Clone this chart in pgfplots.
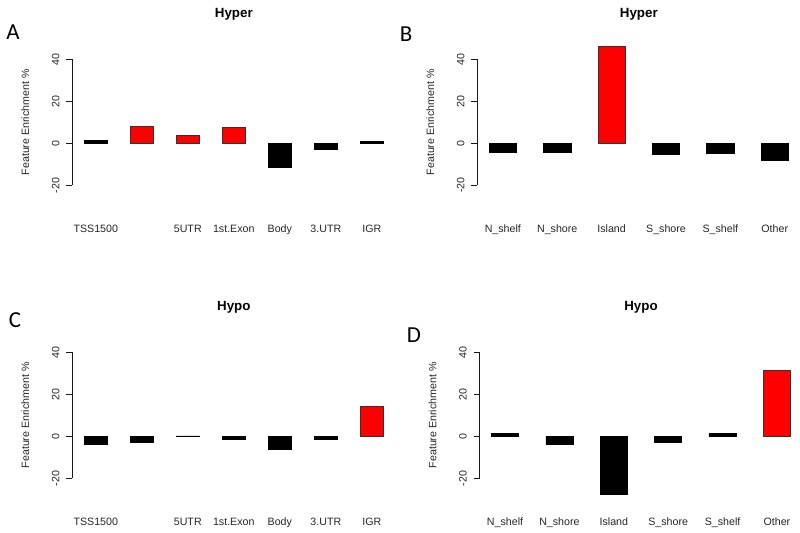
\documentclass[border=0pt]{standalone}
\usepackage{pgfplots}
\pgfplotsset{compat=1.18}
\usepackage{fontspec}
\setmainfont{Liberation Sans}
\newfontfamily\calib{Carlito}
\pgfplotsset{
  panel/.style={
    scale only axis, width=323bp, height=126bp,
    ymin=-20, ymax=40, clip=false,
    axis y line*=left, axis x line*=bottom,
    x axis line style={draw=none}, xtick style={draw=none},
    ytick={-20,0,20,40},
    tick align=outside, major tick length=6bp,
    y axis line style={line width=0.8bp, black!90},
    ytick style={line width=0.8bp, black!90},
    /pgf/number format/assume math mode=true,
    yticklabel style={rotate=90, anchor=base, font=\fontsize{10.7}{12}\selectfont, text=black!85},
    yticklabel shift=7bp,
    xticklabel style={anchor=base, font=\fontsize{10.7}{12}\selectfont, text=black!85},
    xticklabel shift=41bp,
    xtick=data,
    ylabel={Feature Enrichment \%},
    ylabel style={at={(axis description cs:-0.1455,0.5)}, anchor=center, rotate=0, font=\fontsize{10.7}{12}\selectfont, text=black!85},
    title style={at={(axis description cs:0.5,1.283)}, anchor=base, font=\fontsize{13.4}{15}\selectfont\bfseries},
  },
  redbar/.style={ybar, bar shift=0pt, bar width=1, fill=red, draw=black!80, line width=0.6bp},
  blkbar/.style={ybar, bar shift=0pt, bar width=1, fill=black, draw=black, line width=0.6bp},
}
\begin{document}
\begin{tikzpicture}
\useasboundingbox (0,0) rectangle (800bp,533bp);
% Panel A
\begin{axis}[panel, at={(72.3bp,347.7bp)}, anchor=south west,
  xmin=0.48, xmax=14.52, title={Hyper},
  xtick={1.5,3.5,5.5,7.5,9.5,11.5,13.5},
  xticklabels={TSS1500,,5UTR,1st.Exon,Body,3.UTR,IGR}]
\addplot[blkbar] coordinates {(1.5,1.3) (9.5,-11.6) (11.5,-2.7) (13.5,0.8)};
\addplot[redbar] coordinates {(3.5,7.9) (5.5,3.8) (7.5,7.4)};
\end{axis}
% Panel B
\begin{axis}[panel, at={(477.3bp,347.7bp)}, anchor=south west,
  xmin=0.56, xmax=12.44, title={Hyper},
  xtick={1.5,3.5,5.5,7.5,9.5,11.5},
  xticklabels={N\_shelf,N\_shore,Island,S\_shore,S\_shelf,Other}]
\addplot[blkbar] coordinates {(1.5,-4.1) (3.5,-4.1) (7.5,-5.1) (9.5,-4.6) (11.5,-8.1)};
\addplot[redbar] coordinates {(5.5,46.2)};
\end{axis}
% Panel C
\begin{axis}[panel, at={(72.3bp,54.7bp)}, anchor=south west,
  xmin=0.48, xmax=14.52, title={Hypo},
  xtick={1.5,3.5,5.5,7.5,9.5,11.5,13.5},
  xticklabels={TSS1500,,5UTR,1st.Exon,Body,3.UTR,IGR}]
\addplot[blkbar] coordinates {(1.5,-3.7) (3.5,-2.9) (5.5,0.2) (7.5,-1.6) (9.5,-6.0) (11.5,-1.6)};
\addplot[redbar] coordinates {(13.5,14.3)};
\end{axis}
% Panel D
\begin{axis}[panel, at={(479.5bp,54.7bp)}, anchor=south west,
  xmin=0.56, xmax=12.44, title={Hypo},
  xtick={1.5,3.5,5.5,7.5,9.5,11.5},
  xticklabels={N\_shelf,N\_shore,Island,S\_shore,S\_shelf,Other}]
\addplot[blkbar] coordinates {(1.5,1.3) (3.5,-4.0) (5.5,-27.5) (7.5,-2.9) (9.5,1.3)};
\addplot[redbar] coordinates {(11.5,31.6)};
\end{axis}
\node[font=\calib\fontsize{23}{26}\selectfont] at (13bp,500.5bp) {A};
\node[font=\calib\fontsize{23}{26}\selectfont] at (406bp,499bp) {B};
\node[font=\calib\fontsize{23}{26}\selectfont] at (15bp,212.5bp) {C};
\node[font=\calib\fontsize{23}{26}\selectfont] at (414bp,197.5bp) {D};
\end{tikzpicture}
\end{document}
